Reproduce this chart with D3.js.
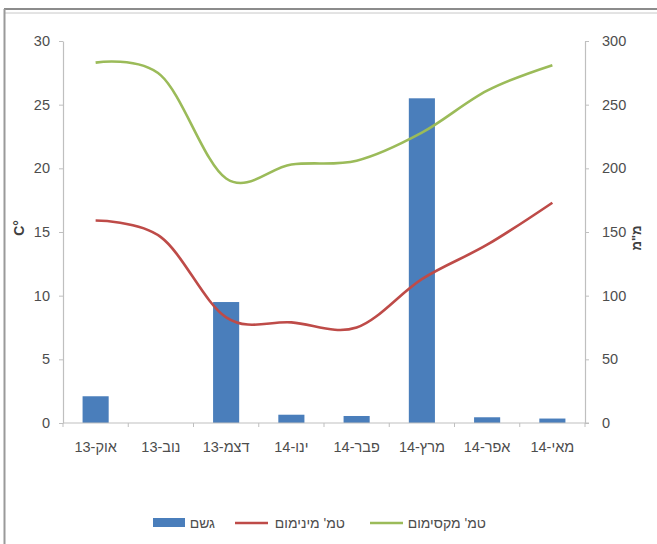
<!DOCTYPE html>
<html>
<head>
<meta charset="utf-8">
<script src="https://cdn.jsdelivr.net/npm/d3@7/dist/d3.min.js"></script>
<style>
  html, body { margin: 0; padding: 0; background: #fff; }
  svg { display: block; font-family: "Liberation Sans", Arial, sans-serif; }
</style>
</head>
<body>
<svg id="chart" width="657" height="544"></svg>
<script>
// Monthly climate: rain (mm, right axis), min / max temperature (°C, left axis)
const months = ["אוק-13", "נוב-13", "דצמ-13", "ינו-14", "פבר-14", "מרץ-14", "אפר-14", "מאי-14"];
const rainMm = [21, 0, 95, 6.5, 5.5, 255, 4.5, 3.5];
const minTemp = [15.9, 14.6, 8.3, 7.9, 7.5, 11.3, 14.0, 17.3];
const maxTemp = [28.3, 27.3, 19.2, 20.3, 20.6, 22.8, 26.1, 28.1];
const tempTicks = [0, 5, 10, 15, 20, 25, 30];
const rainTicks = [0, 50, 100, 150, 200, 250, 300];
const legendLabels = ["גשם", "טמ' מינימום", "טמ' מקסימום"];

const colors = { rain: "#4a7ebb", min: "#be4b48", max: "#9bbb59", axis: "#bfbfbf", text: "#4d4d4d" };

const svg = d3.select("#chart");

// outer frame
svg.append("line").attr("x1", 4).attr("x2", 657).attr("y1", 9).attr("y2", 9)
  .attr("stroke", "#8c8c8c").attr("stroke-width", 2);
svg.append("line").attr("x1", 4).attr("x2", 657).attr("y1", 13).attr("y2", 13)
  .attr("stroke", "#c8c8c8").attr("stroke-width", 1);
svg.append("line").attr("x1", 4.5).attr("x2", 4.5).attr("y1", 9).attr("y2", 544)
  .attr("stroke", "#9a9a9a").attr("stroke-width", 2);

const plot = { left: 63, right: 585, top: 41, bottom: 423 };

const x = d3.scaleBand().domain(months).range([plot.left, plot.right]).paddingInner(0).paddingOuter(0);
const yT = d3.scaleLinear().domain([0, 30]).range([plot.bottom, plot.top]);
const yR = d3.scaleLinear().domain([0, 300]).range([plot.bottom, plot.top]);

// rain bars (gap width 150%)
const barW = x.bandwidth() / 2.5;
svg.append("g").selectAll("rect").data(rainMm).join("rect")
  .attr("x", (d, i) => x(months[i]) + (x.bandwidth() - barW) / 2)
  .attr("width", barW)
  .attr("y", d => yR(d))
  .attr("height", d => yR(0) - yR(d))
  .attr("fill", colors.rain);

// smoothed temperature lines
const line = d3.line()
  .x((d, i) => x(months[i]) + x.bandwidth() / 2)
  .y(d => yT(d))
  .curve(d3.curveCatmullRom.alpha(0));

svg.append("path").datum(minTemp).attr("d", line)
  .attr("fill", "none").attr("stroke", colors.min).attr("stroke-width", 2.6);
svg.append("path").datum(maxTemp).attr("d", line)
  .attr("fill", "none").attr("stroke", colors.max).attr("stroke-width", 2.6);

// axes
function styleAxis(g) {
  g.select(".domain").attr("stroke", colors.axis).attr("stroke-width", 1.2);
  g.selectAll(".tick line").attr("stroke", colors.axis);
  g.selectAll(".tick text").attr("fill", colors.text).attr("font-size", 14.5);
}

svg.append("g").attr("transform", `translate(${plot.left},0)`)
  .call(d3.axisLeft(yT).tickValues(tempTicks).tickSize(4).tickSizeOuter(0).tickPadding(9))
  .call(styleAxis);

svg.append("g").attr("transform", `translate(${plot.right},0)`)
  .call(d3.axisRight(yR).tickValues(rainTicks).tickSize(4).tickSizeOuter(0).tickPadding(13))
  .call(styleAxis);

// category axis: ticks sit on band boundaries
const xAxis = svg.append("g").attr("transform", `translate(0,${plot.bottom})`);
xAxis.append("line").attr("x1", plot.left).attr("x2", plot.right + 4)
  .attr("stroke", colors.axis).attr("stroke-width", 1.2);
const bounds = months.map(m => x(m)).concat([plot.right]);
xAxis.selectAll("line.tk").data(bounds).join("line").attr("class", "tk")
  .attr("x1", d => d).attr("x2", d => d).attr("y1", 0).attr("y2", 4)
  .attr("stroke", colors.axis);
xAxis.selectAll("text").data(months).join("text")
  .attr("x", d => x(d) + x.bandwidth() / 2)
  .attr("y", 29)
  .attr("text-anchor", "middle")
  .attr("direction", "rtl")
  .attr("fill", colors.text)
  .attr("font-size", 14.5)
  .text(d => d);

// axis titles
svg.append("text").attr("transform", "translate(24,228) rotate(-90)")
  .attr("text-anchor", "middle").attr("fill", "#404040")
  .attr("font-size", 14).attr("font-weight", "bold").text("C°");
svg.append("text").attr("transform", "translate(641,238) rotate(-90)")
  .attr("text-anchor", "middle").attr("fill", "#404040").attr("direction", "rtl")
  .attr("font-size", 13).attr("font-weight", "bold").text("מ\"מ");

// legend
const legend = svg.append("g");
const lg = [
  { key: "rain", x: 153, textX: 215 },
  { key: "min", x: 235, textX: 345 },
  { key: "max", x: 370, textX: 486 }
];
lg.forEach((d, i) => {
  if (d.key === "rain") {
    legend.append("rect").attr("x", d.x).attr("y", 518).attr("width", 32).attr("height", 9)
      .attr("fill", colors.rain);
  } else {
    legend.append("line").attr("x1", d.x).attr("x2", d.x + 33).attr("y1", 523).attr("y2", 523)
      .attr("stroke", colors[d.key]).attr("stroke-width", 2.6);
  }
  legend.append("text").attr("x", d.textX).attr("y", 528)
    .attr("text-anchor", "start").attr("direction", "rtl")
    .attr("fill", colors.text).attr("font-size", 14).text(legendLabels[i]);
});
</script>
</body>
</html>
